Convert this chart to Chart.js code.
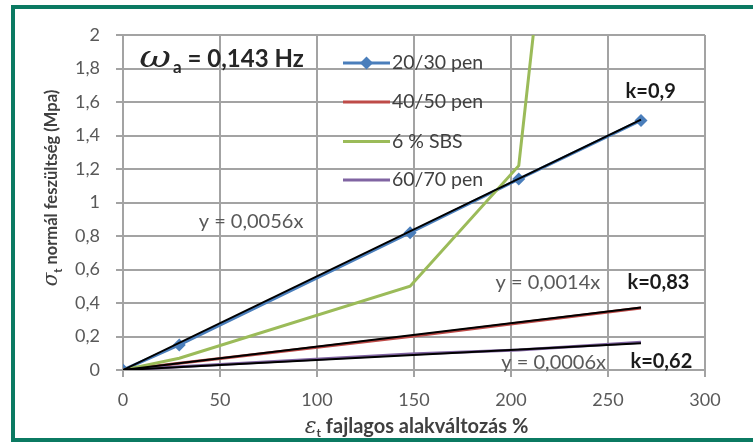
<!DOCTYPE html>
<html>
<head>
<meta charset="utf-8">
<script src="https://cdn.jsdelivr.net/npm/chart.js@4"></script>
<style>
  html, body { margin: 0; padding: 0; background: #fff; overflow: hidden; }
  canvas { display: block; }
</style>
</head>
<body>
<canvas id="c" width="753" height="442"></canvas>
<script>
// Strain values (%) shared by every measured series
const strain = [0, 29, 148, 204, 267];

// Normal stress (MPa) per binder
const pen2030 = [0, 0.15, 0.82, 1.14, 1.49];
const pen4050 = [0, 0.04, 0.20, 0.28, 0.37];
const sbs6    = [0, 0.07, 0.50, 1.22, 7.80];
const pen6070 = [0, 0.02, 0.095, 0.12, 0.165];

const seriesNames  = ['20/30 pen', '40/50 pen', '6 % SBS', '60/70 pen'];
const seriesColors = ['#4a7ebb', '#be4b48', '#9bbb59', '#8064a2'];

// Linear trend lines through the origin (for 20/30, 40/50, 60/70)
const trendSlopes = [0.0056, 0.0014, 0.0006];
const trendEnd    = 267;
const trendLabels = ['y = 0,0056x', 'y = 0,0014x', 'y = 0,0006x'];
const kLabels     = ['k=0,9', 'k=0,83', 'k=0,62'];

// Axis ranges
const xMin = 0, xMax = 300, xStep = 50;
const yMin = 0, yMax = 2, yStep = 0.2;

const FONT = 'Lato, "Open Sans", sans-serif';
const GRID = '#a3a3a3';

const toPoints = ys => strain.map((x, i) => ({ x, y: ys[i] }));
const seriesValues = [pen2030, pen4050, sbs6, pen6070];

const datasets = seriesValues.map((ys, i) => ({
  label: seriesNames[i],
  data: toPoints(ys),
  showLine: true,
  borderColor: seriesColors[i],
  backgroundColor: seriesColors[i],
  borderWidth: 3,
  pointStyle: 'rectRot',
  pointRadius: i === 0 ? 6.5 : 0,
  pointHoverRadius: 0,
  pointBorderWidth: 0,
  order: 4 - i + 1
}));

trendSlopes.forEach(k => {
  datasets.push({
    label: 'trend',
    data: [{ x: 0, y: 0 }, { x: trendEnd, y: k * trendEnd }],
    showLine: true,
    borderColor: '#000',
    borderWidth: 2,
    pointRadius: 0,
    order: 0
  });
});

// Draws a run of differently styled text pieces centred on (cx, cy)
function richText(ctx, parts, cx, cy, rotate) {
  ctx.save();
  ctx.translate(cx, cy);
  if (rotate) ctx.rotate(-Math.PI / 2);
  const widthOf = p => { ctx.font = p.font; return ctx.measureText(p.text).width * (p.sx || 1) + (p.gap || 0); };
  let total = 0;
  parts.forEach(p => { total += widthOf(p); });
  let x = -total / 2;
  ctx.textBaseline = 'middle';
  ctx.textAlign = 'left';
  parts.forEach(p => {
    const w = widthOf(p);
    ctx.font = p.font;
    ctx.fillStyle = p.color;
    ctx.save();
    ctx.translate(x, p.dy || 0);
    ctx.scale(p.sx || 1, 1);
    ctx.fillText(p.text, 0, 0);
    ctx.restore();
    x += w;
  });
  ctx.restore();
}

const framePlugin = {
  id: 'frame',
  beforeDraw(chart) {
    const ctx = chart.ctx;
    ctx.save();
    ctx.fillStyle = '#fff';
    ctx.fillRect(0, 0, chart.width, chart.height);
    ctx.fillStyle = '#0b7a62';
    ctx.fillRect(11, 5, chart.width - 11, 4);
    ctx.fillRect(11, 5, 4, chart.height - 5);
    ctx.fillRect(11, chart.height - 4, chart.width - 11, 4);
    ctx.restore();
  }
};

const labelsPlugin = {
  id: 'labels',
  afterDatasetsDraw(chart) {
    const ctx = chart.ctx;
    const xs = chart.scales.x, ys = chart.scales.y;
    const px = v => xs.getPixelForValue(v);
    const py = v => ys.getPixelForValue(v);

    // Legend inside the plot
    ctx.save();
    const lx0 = 343, lx1 = 390;
    const rows = [63, 102, 141.5, 180];
    seriesNames.forEach((name, i) => {
      const y = rows[i];
      ctx.strokeStyle = seriesColors[i];
      ctx.lineWidth = 3;
      ctx.beginPath(); ctx.moveTo(lx0, y); ctx.lineTo(lx1, y); ctx.stroke();
      if (i === 0) {
        const cx = (lx0 + lx1) / 2, r = 6.5;
        ctx.fillStyle = seriesColors[i];
        ctx.beginPath();
        ctx.moveTo(cx, y - r); ctx.lineTo(cx + r, y); ctx.lineTo(cx, y + r); ctx.lineTo(cx - r, y);
        ctx.closePath(); ctx.fill();
      }
      ctx.fillStyle = '#404040';
      ctx.font = '19.5px ' + FONT;
      ctx.textAlign = 'left';
      ctx.textBaseline = 'middle';
      ctx.fillText(name, lx1 + 2, y);
    });
    ctx.restore();

    // Trend equations and k values
    ctx.save();
    ctx.textAlign = 'center';
    ctx.textBaseline = 'middle';
    ctx.fillStyle = '#595959';
    ctx.font = '20px ' + FONT;
    ctx.fillText(trendLabels[0], px(66), py(0.884));
    ctx.fillText(trendLabels[1], px(219), py(0.52));
    ctx.fillText(trendLabels[2], px(222), py(0.045));
    ctx.fillStyle = '#1a1a1a';
    ctx.font = 'bold 20px ' + FONT;
    ctx.fillText(kLabels[0], px(272), py(1.66));
    ctx.fillText(kLabels[1], px(276), py(0.52));
    ctx.fillText(kLabels[2], px(277.5), py(0.048));
    ctx.restore();

    // Test frequency
    richText(ctx, [
      { text: 'ω', font: 'italic 30px "DejaVu Serif", serif', color: '#262626', sx: 1.3, gap: 2 },
      { text: 'a', font: 'bold 17px ' + FONT, color: '#262626', dy: 9 },
      { text: ' = 0,143 Hz', font: 'bold 24px ' + FONT, color: '#262626' }
    ], 221.5, 59, false);
  },
  afterDraw(chart) {
    const ctx = chart.ctx;
    richText(ctx, [
      { text: 'σ', font: 'italic 20px "DejaVu Serif", serif', color: '#404040' },
      { text: 't', font: 'bold 11px ' + FONT, color: '#404040', dy: 6 },
      { text: ' normál feszültség (Mpa)', font: 'bold 16.5px ' + FONT, color: '#404040' }
    ], 52, 188, true);
    richText(ctx, [
      { text: 'ε', font: 'italic 22px "DejaVu Serif", serif', color: '#404040' },
      { text: 't', font: 'bold 12px ' + FONT, color: '#404040', dy: 6 },
      { text: ' fajlagos alakváltozás %', font: 'bold 20px ' + FONT, color: '#404040' }
    ], 416.5, 427, false);
  }
};

const fmt = v => String(Math.round(v * 10) / 10).replace('.', ',');

new Chart(document.getElementById('c'), {
  type: 'scatter',
  data: { datasets },
  options: {
    responsive: false,
    animation: false,
    events: [],
    layout: { padding: { left: 0, right: 48, top: 35, bottom: 0 } },
    plugins: { legend: { display: false }, tooltip: { enabled: false }, title: { display: false } },
    scales: {
      x: {
        type: 'linear', min: xMin, max: xMax,
        ticks: { stepSize: xStep, color: '#595959', font: { family: FONT, size: 18 }, padding: 12 },
        grid: { color: GRID, lineWidth: 2, tickLength: 7 },
        border: { color: GRID, width: 2 },
        afterFit: s => { s.height = 72; }
      },
      y: {
        type: 'linear', min: yMin, max: yMax,
        ticks: { stepSize: yStep, color: '#595959', font: { family: FONT, size: 18 }, padding: 16, callback: fmt },
        grid: { color: GRID, lineWidth: 2, tickLength: 7 },
        border: { color: GRID, width: 2 },
        afterFit: s => { s.width = 123; }
      }
    }
  },
  plugins: [framePlugin, labelsPlugin]
});
</script>
</body>
</html>
